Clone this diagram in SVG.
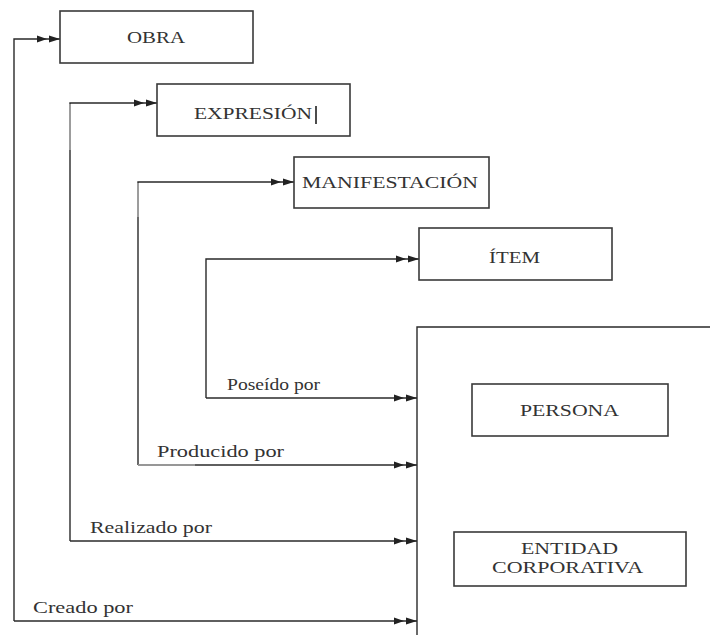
<svg xmlns="http://www.w3.org/2000/svg" width="710" height="635" viewBox="0 0 710 635">
<style>
.box{fill:#fff;stroke:#3a3a3a;stroke-width:1.6}
.ln{fill:none;stroke:#2a2a2a;stroke-width:1.4}
.gr{fill:none;stroke:#aaaaaa;stroke-width:1.6}
.t{font-family:"Liberation Serif","Times New Roman",serif;font-size:17px;fill:#333}
.c{text-anchor:middle}
</style>
<defs>
<marker id="dbl" markerUnits="userSpaceOnUse" viewBox="0 0 23 8" refX="23" refY="4" markerWidth="23" markerHeight="8" orient="auto">
<path d="M0,0.5 L10,4 L0,7.5 Z M12,0.5 L23,4 L12,7.5 Z" fill="#222"/>
</marker>
</defs>
<rect width="710" height="635" fill="#fff"/>
<g id="connectors">
<path class="ln" d="M14,621 L14,39 L60,39" marker-end="url(#dbl)"/>
<path class="ln" d="M70,541 L70,103 L157,103" marker-end="url(#dbl)"/>
<path class="gr" d="M70,104 L70,150"/>
<path class="ln" d="M138,465 L138,182 L294,182" marker-end="url(#dbl)"/>
<path class="gr" d="M138,183 L138,217"/>
<path class="ln" d="M206,398 L206,259 L419,259" marker-end="url(#dbl)"/>
<path class="ln" d="M206,398 L417,398" marker-end="url(#dbl)"/>
<path class="ln" d="M138,465 L417,465" marker-end="url(#dbl)"/>
<path class="gr" d="M138,465 L195,465"/>
<path class="ln" d="M70,541 L417,541" marker-end="url(#dbl)"/>
<path class="ln" d="M14,621 L417,621" marker-end="url(#dbl)"/>
<text class="t" x="33" y="613" textLength="100" lengthAdjust="spacingAndGlyphs">Creado por</text>
<text class="t" x="90" y="533" textLength="122" lengthAdjust="spacingAndGlyphs">Realizado por</text>
<text class="t" x="157" y="457" textLength="127" lengthAdjust="spacingAndGlyphs">Producido por</text>
<text class="t" x="227" y="390" textLength="93" lengthAdjust="spacingAndGlyphs">Poseído por</text>
</g>
<g id="agente">
<path class="ln" d="M417,635 L417,327 L710,327" stroke-width="1.6"/>
</g>
<g id="obra">
<rect class="box" x="60" y="11" width="193" height="52"/>
<text class="t c" x="156" y="43" textLength="58" lengthAdjust="spacingAndGlyphs">OBRA</text>
</g>
<g id="expresion">
<rect class="box" x="157" y="84" width="193" height="52"/>
<text class="t" x="194" y="119" textLength="118" lengthAdjust="spacingAndGlyphs">EXPRESIÓN</text>
<line x1="316" y1="106" x2="316" y2="124" stroke="#111" stroke-width="1.5"/>
</g>
<g id="manifestacion">
<rect class="box" x="294" y="157" width="195" height="51"/>
<text class="t" x="302" y="188" textLength="176" lengthAdjust="spacingAndGlyphs">MANIFESTACIÓN</text>
</g>
<g id="item">
<rect class="box" x="419" y="228" width="193" height="52"/>
<text class="t" x="489" y="263" textLength="51" lengthAdjust="spacingAndGlyphs">ÍTEM</text>
</g>
<g id="persona">
<rect class="box" x="472" y="384" width="196" height="52"/>
<text class="t" x="520" y="416" textLength="99" lengthAdjust="spacingAndGlyphs">PERSONA</text>
</g>
<g id="entidad">
<rect class="box" x="454" y="532" width="232" height="54"/>
<text class="t" x="521" y="554" textLength="97" lengthAdjust="spacingAndGlyphs">ENTIDAD</text>
<text class="t" x="492" y="573" textLength="151" lengthAdjust="spacingAndGlyphs">CORPORATIVA</text>
</g>
</svg>
